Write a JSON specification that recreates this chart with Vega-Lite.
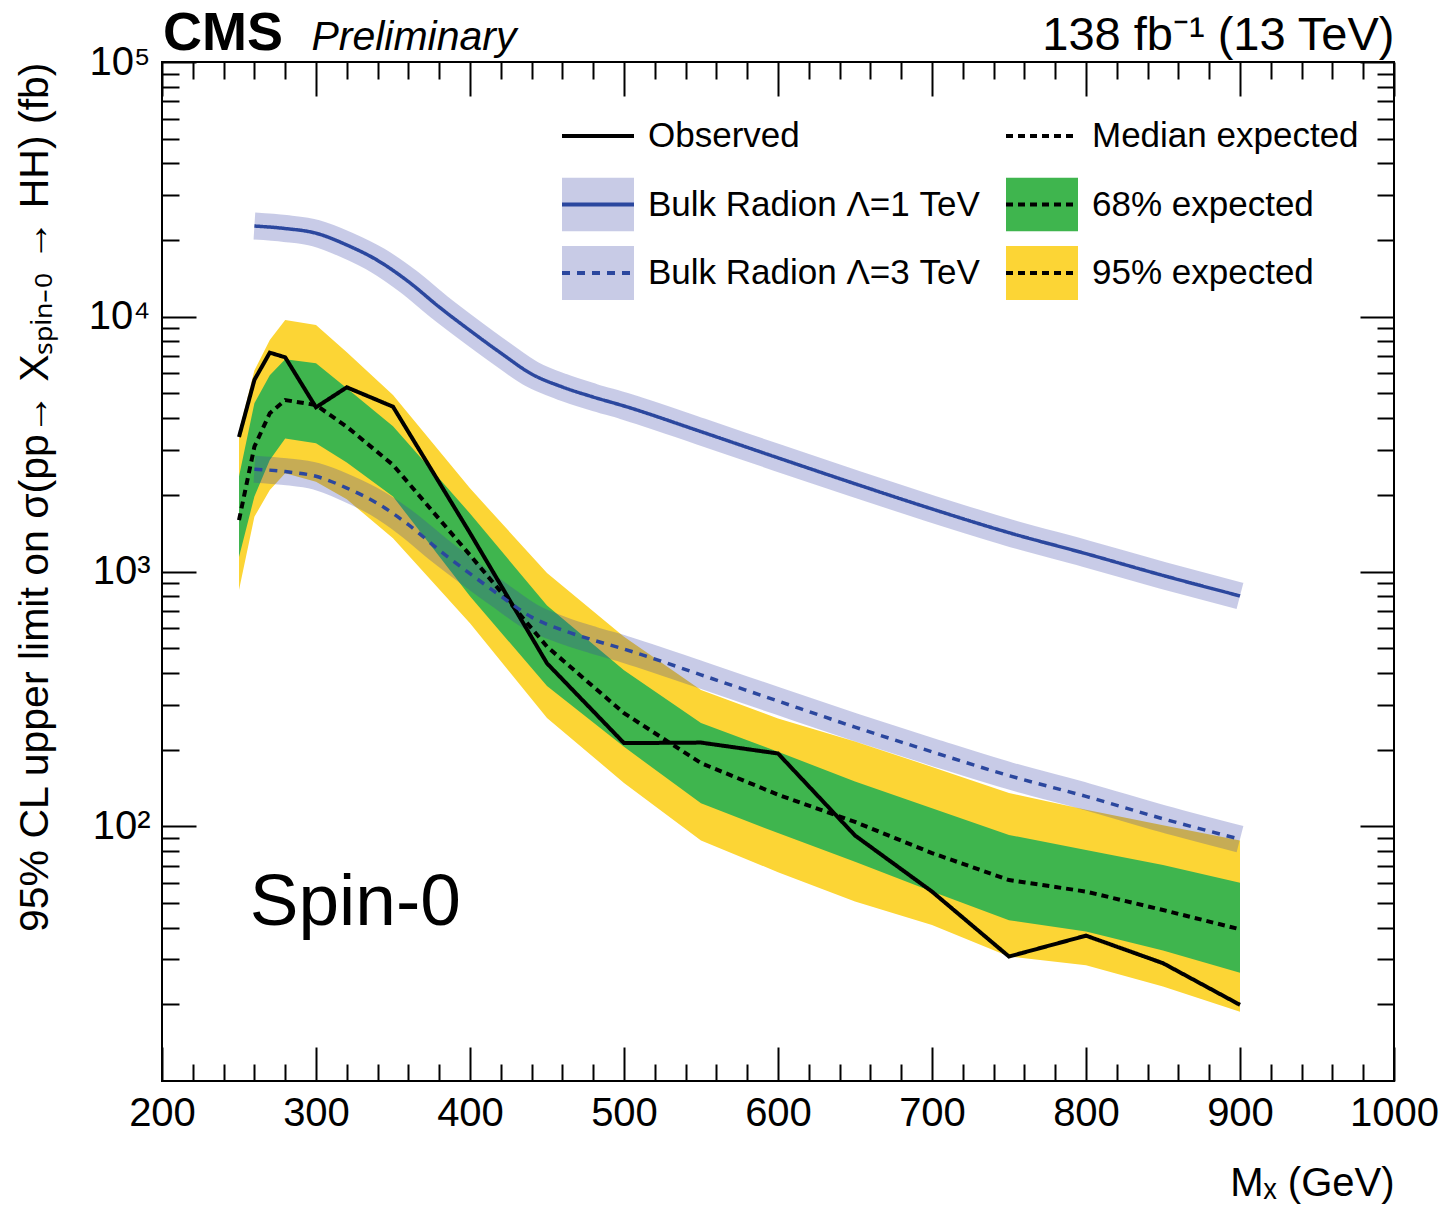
{
  "$schema": "https://vega.github.io/schema/vega-lite/v6.json",
  "width": 1232,
  "height": 1019,
  "autosize": {"type": "none"},
  "padding": {"left": 162, "top": 62, "right": 45, "bottom": 126},
  "background": "white",
  "config": {
    "view": {"stroke": "black", "strokeWidth": 2},
    "font": "Liberation Sans"
  },
  "datasets": {
    "lim": [
      {"m": 250, "obs": 3375, "exp": 1590, "lo68": 1140, "hi68": 2360, "lo95": 846, "hi95": 3550},
      {"m": 260, "obs": 5650, "exp": 3090, "lo68": 1970, "hi68": 4580, "lo95": 1640, "hi95": 6150},
      {"m": 270, "obs": 7230, "exp": 4180, "lo68": 2740, "hi68": 5900, "lo95": 2090, "hi95": 8110},
      {"m": 280, "obs": 6930, "exp": 4710, "lo68": 3330, "hi68": 6810, "lo95": 2430, "hi95": 9710},
      {"m": 300, "obs": 4410, "exp": 4500, "lo68": 3190, "hi68": 6570, "lo95": 2250, "hi95": 9290},
      {"m": 320, "obs": 5285, "exp": 3700, "lo68": 2680, "hi68": 5240, "lo95": 1920, "hi95": 7250},
      {"m": 350, "obs": 4435, "exp": 2620, "lo68": 1970, "hi68": 3720, "lo95": 1350, "hi95": 4930},
      {"m": 400, "obs": 1416, "exp": 1160, "lo68": 800, "hi68": 1690, "lo95": 626, "hi95": 2120},
      {"m": 450, "obs": 436, "exp": 507, "lo68": 355, "hi68": 735, "lo95": 266, "hi95": 986},
      {"m": 500, "obs": 212, "exp": 278, "lo68": 205, "hi68": 410, "lo95": 148, "hi95": 555},
      {"m": 550, "obs": 213, "exp": 177, "lo68": 123, "hi68": 254, "lo95": 88, "hi95": 343},
      {"m": 600, "obs": 193, "exp": 133, "lo68": 94, "hi68": 196, "lo95": 66, "hi95": 265},
      {"m": 650, "obs": 92, "exp": 104, "lo68": 72.6, "hi68": 150, "lo95": 50.6, "hi95": 215},
      {"m": 700, "obs": 55.4, "exp": 78.5, "lo68": 55.4, "hi68": 117.6, "lo95": 41, "hi95": 171},
      {"m": 750, "obs": 30.8, "exp": 61.5, "lo68": 42.8, "hi68": 92.4, "lo95": 30.8, "hi95": 135},
      {"m": 800, "obs": 37.2, "exp": 55.4, "lo68": 38.6, "hi68": 80.7, "lo95": 28.5, "hi95": 116},
      {"m": 850, "obs": 29.0, "exp": 46.9, "lo68": 32.5, "hi68": 70.5, "lo95": 23.5, "hi95": 101},
      {"m": 900, "obs": 19.9, "exp": 39.4, "lo68": 26.6, "hi68": 60, "lo95": 18.7, "hi95": 88}
    ],
    "lam": [
      {"m": 260, "l1": 22700, "l3": 2522},
      {"m": 280, "l1": 22200, "l3": 2467},
      {"m": 300, "l1": 21280, "l3": 2364},
      {"m": 320, "l1": 19130, "l3": 2126},
      {"m": 340, "l1": 16640, "l3": 1849},
      {"m": 360, "l1": 13740, "l3": 1527},
      {"m": 380, "l1": 10920, "l3": 1213},
      {"m": 400, "l1": 8830, "l3": 981},
      {"m": 420, "l1": 7205, "l3": 801},
      {"m": 440, "l1": 5960, "l3": 662},
      {"m": 460, "l1": 5300, "l3": 589},
      {"m": 480, "l1": 4840, "l3": 538},
      {"m": 500, "l1": 4464, "l3": 496},
      {"m": 550, "l1": 3540, "l3": 393},
      {"m": 600, "l1": 2793, "l3": 310},
      {"m": 650, "l1": 2210, "l3": 245},
      {"m": 700, "l1": 1760, "l3": 196},
      {"m": 750, "l1": 1420, "l3": 158},
      {"m": 800, "l1": 1175, "l3": 131},
      {"m": 850, "l1": 965, "l3": 107},
      {"m": 900, "l1": 802, "l3": 89}
    ]
  },
  "layer": [
    {
      "data": {"name": "lim"},
      "mark": {"type": "area", "opacity": 1, "interpolate": "linear"},
      "encoding": {
        "x": {"field": "m", "type": "quantitative", "scale": {"type": "linear", "domain": [200, 1000], "nice": false, "zero": false},
          "axis": {"orient": "bottom", "values": [200, 300, 400, 500, 600, 700, 800, 900, 1000], "tickSize": -34, "tickWidth": 2, "tickColor": "black", "domain": false, "grid": false, "labelFont": "Liberation Sans", "labelFontSize": 40, "labelColor": "black", "labelPadding": 46, "labelFlush": false, "labelOverlap": false, "format": "d", "title": "Mₓ (GeV)", "titleFont": "Liberation Sans", "titleFontSize": 40, "titleFontWeight": "normal", "titleColor": "black", "titleAnchor": "end", "titleAlign": "right", "titlePadding": 30}},
        "y": {"field": "lo95", "type": "quantitative", "scale": {"type": "log", "domain": [10, 100000], "nice": false},
          "axis": {"orient": "left", "values": [100, 1000, 10000, 100000], "tickSize": -34, "tickWidth": 2, "tickColor": "black", "domain": false, "grid": false, "labelFont": "Liberation Sans", "labelFontSize": 40, "labelColor": "black", "labelPadding": 46, "labelFlush": false, "labelOverlap": false, "labelExpr": "datum.value == 100 ? '10²' : datum.value == 1000 ? '10³' : datum.value == 10000 ? '10⁴' : '10⁵'", "title": "95% CL upper limit on σ(pp→ Xₛₚᵢₙ₋₀ → HH) (fb)", "titleFont": "Liberation Sans", "titleFontSize": 41, "titleFontWeight": "normal", "titleColor": "black", "titleAnchor": "end", "titlePadding": 32}},
        "y2": {"field": "hi95"},
        "fill": {"datum": "f:95% expected", "type": "nominal",
          "scale": {"domain": ["f:Observed", "f:Bulk Radion Λ=1 TeV", "f:Bulk Radion Λ=3 TeV", "f:Median expected", "f:68% expected", "f:95% expected"], "range": ["transparent", "#c8cbe6", "#c8cbe6", "transparent", "#3fb54e", "#fcd535"]},
          "legend": {"orient": "none", "legendX": 398, "legendY": 47, "columns": 2, "columnPadding": 24, "rowPadding": 14.5, "clipHeight": 54, "symbolType": "M-1,-0.75H1V0.75H-1Z", "symbolSize": 5184, "symbolStrokeWidth": 4, "symbolStrokeColor": "transparent", "symbolOpacity": 1, "labelExpr": "slice(datum.label, 2)", "labelFont": "Liberation Sans", "labelFontSize": 35, "labelColor": "black", "labelOffset": 12, "labelLimit": 800, "title": null, "padding": 0, "symbolOffset": 0}}
      }
    },
    {
      "data": {"name": "lim"},
      "mark": {"type": "area", "opacity": 1, "interpolate": "linear"},
      "encoding": {
        "x": {"field": "m", "type": "quantitative", "scale": {"type": "linear", "domain": [200, 1000], "nice": false, "zero": false},
          "axis": {"orient": "bottom", "values": [220, 240, 260, 280, 320, 340, 360, 380, 420, 440, 460, 480, 520, 540, 560, 580, 620, 640, 660, 680, 720, 740, 760, 780, 820, 840, 860, 880, 920, 940, 960, 980], "tickSize": -17, "tickWidth": 2, "tickColor": "black", "domain": false, "grid": false, "labels": false, "title": null}},
        "y": {"field": "lo68", "type": "quantitative", "scale": {"type": "log", "domain": [10, 100000], "nice": false},
          "axis": {"orient": "left", "values": [20, 30, 40, 50, 60, 70, 80, 90, 200, 300, 400, 500, 600, 700, 800, 900, 2000, 3000, 4000, 5000, 6000, 7000, 8000, 9000, 20000, 30000, 40000, 50000, 60000, 70000, 80000, 90000], "tickSize": -17, "tickWidth": 2, "tickColor": "black", "domain": false, "grid": false, "labels": false, "title": null}},
        "y2": {"field": "hi68"},
        "fill": {"datum": "f:68% expected", "type": "nominal"}
      }
    },
    {
      "data": {"name": "lam"},
      "mark": {"type": "line", "interpolate": "monotone", "stroke": "#3a46a8", "opacity": 0.28, "strokeWidth": 27, "strokeCap": "butt"},
      "encoding": {
        "x": {"field": "m", "type": "quantitative", "scale": {"type": "linear", "domain": [200, 1000], "nice": false, "zero": false},
          "axis": {"orient": "top", "values": [200, 300, 400, 500, 600, 700, 800, 900, 1000], "tickSize": -34, "tickWidth": 2, "tickColor": "black", "domain": false, "grid": false, "labels": false, "title": "138 fb⁻¹ (13 TeV)", "titleFont": "Liberation Sans", "titleFontSize": 47, "titleFontWeight": "normal", "titleColor": "black", "titleAnchor": "end", "titleAlign": "right", "titlePadding": 2}},
        "y": {"field": "l1", "type": "quantitative", "scale": {"type": "log", "domain": [10, 100000], "nice": false},
          "axis": {"orient": "right", "values": [100, 1000, 10000, 100000], "tickSize": -34, "tickWidth": 2, "tickColor": "black", "domain": false, "grid": false, "labels": false, "title": null}}
      }
    },
    {
      "data": {"name": "lam"},
      "mark": {"type": "line", "interpolate": "monotone", "stroke": "#3a46a8", "opacity": 0.28, "strokeWidth": 27, "strokeCap": "butt"},
      "encoding": {
        "x": {"field": "m", "type": "quantitative", "scale": {"type": "linear", "domain": [200, 1000], "nice": false, "zero": false},
          "axis": {"orient": "top", "values": [220, 240, 260, 280, 320, 340, 360, 380, 420, 440, 460, 480, 520, 540, 560, 580, 620, 640, 660, 680, 720, 740, 760, 780, 820, 840, 860, 880, 920, 940, 960, 980], "tickSize": -17, "tickWidth": 2, "tickColor": "black", "domain": false, "grid": false, "labels": false, "title": null}},
        "y": {"field": "l3", "type": "quantitative", "scale": {"type": "log", "domain": [10, 100000], "nice": false},
          "axis": {"orient": "right", "values": [20, 30, 40, 50, 60, 70, 80, 90, 200, 300, 400, 500, 600, 700, 800, 900, 2000, 3000, 4000, 5000, 6000, 7000, 8000, 9000, 20000, 30000, 40000, 50000, 60000, 70000, 80000, 90000], "tickSize": -17, "tickWidth": 2, "tickColor": "black", "domain": false, "grid": false, "labels": false, "title": null}}
      }
    },
    {
      "data": {"name": "lim"},
      "mark": {"type": "line", "strokeWidth": 4},
      "encoding": {
        "x": {"field": "m", "type": "quantitative", "axis": null},
        "y": {"field": "exp", "type": "quantitative", "axis": null},
        "stroke": {"datum": "Median expected", "type": "nominal",
          "scale": {"domain": ["Observed", "Bulk Radion Λ=1 TeV", "Bulk Radion Λ=3 TeV", "Median expected", "68% expected", "95% expected"], "range": ["black", "#2b479e", "#2b479e", "black", "black", "black"]},
          "legend": {"orient": "none", "legendX": 398, "legendY": 47, "columns": 2, "columnPadding": 24, "rowPadding": 14.5, "clipHeight": 54, "symbolType": "M-1,-0.75L-1,-0.75M-1,0L1,0M1,0.75L1,0.75", "symbolSize": 5184, "symbolStrokeWidth": 4, "labelOpacity": 0, "labelFont": "Liberation Sans", "labelFontSize": 35, "labelColor": "black", "labelOffset": 12, "labelLimit": 800, "title": null, "padding": 0, "symbolOffset": 0, "zindex": 2}},
        "strokeDash": {"datum": "Median expected", "type": "nominal",
          "scale": {"domain": ["Observed", "Bulk Radion Λ=1 TeV", "Bulk Radion Λ=3 TeV", "Median expected", "68% expected", "95% expected"], "range": [[1, 0], [1, 0], [8, 7], [7, 5], [7, 5], [7, 5]]},
          "legend": {"orient": "none", "legendX": 398, "legendY": 47, "columns": 2, "columnPadding": 24, "rowPadding": 14.5, "clipHeight": 54, "symbolType": "M-1,-0.75L-1,-0.75M-1,0L1,0M1,0.75L1,0.75", "symbolSize": 5184, "symbolStrokeWidth": 4, "labelOpacity": 0, "labelFont": "Liberation Sans", "labelFontSize": 35, "labelColor": "black", "labelOffset": 12, "labelLimit": 800, "title": null, "padding": 0, "symbolOffset": 0, "zindex": 2}}
      }
    },
    {
      "data": {"name": "lim"},
      "mark": {"type": "line", "strokeWidth": 4},
      "encoding": {
        "x": {"field": "m", "type": "quantitative", "axis": null},
        "y": {"field": "obs", "type": "quantitative", "axis": null},
        "stroke": {"datum": "Observed", "type": "nominal"},
        "strokeDash": {"datum": "Observed", "type": "nominal"}
      }
    },
    {
      "data": {"name": "lam"},
      "mark": {"type": "line", "strokeWidth": 3.5, "interpolate": "monotone"},
      "encoding": {
        "x": {"field": "m", "type": "quantitative", "axis": null},
        "y": {"field": "l1", "type": "quantitative", "axis": null},
        "stroke": {"datum": "Bulk Radion Λ=1 TeV", "type": "nominal"},
        "strokeDash": {"datum": "Bulk Radion Λ=1 TeV", "type": "nominal"}
      }
    },
    {
      "data": {"name": "lam"},
      "mark": {"type": "line", "strokeWidth": 3.5, "interpolate": "monotone"},
      "encoding": {
        "x": {"field": "m", "type": "quantitative", "axis": null},
        "y": {"field": "l3", "type": "quantitative", "axis": null},
        "stroke": {"datum": "Bulk Radion Λ=3 TeV", "type": "nominal"},
        "strokeDash": {"datum": "Bulk Radion Λ=3 TeV", "type": "nominal"}
      }
    },
    {
      "data": {"values": [{}]},
      "mark": {"type": "text", "text": "Spin-0", "font": "Liberation Sans", "fontSize": 73, "align": "left", "baseline": "alphabetic", "color": "black"},
      "encoding": {
        "x": {"datum": 257, "type": "quantitative", "axis": null},
        "y": {"datum": 41, "type": "quantitative", "axis": null}
      }
    },
    {
      "data": {"values": [{}]},
      "mark": {"type": "text", "text": "CMS", "font": "Liberation Sans", "fontSize": 54, "fontWeight": "bold", "align": "left", "baseline": "alphabetic", "dy": -12, "dx": 1, "color": "black"},
      "encoding": {
        "x": {"datum": 200, "type": "quantitative", "axis": null},
        "y": {"datum": 100000, "type": "quantitative", "axis": null}
      }
    },
    {
      "data": {"values": [{}]},
      "mark": {"type": "text", "text": "Preliminary", "font": "Liberation Sans", "fontSize": 41, "fontStyle": "italic", "align": "left", "baseline": "alphabetic", "dy": -12, "color": "black"},
      "encoding": {
        "x": {"datum": 297, "type": "quantitative", "axis": null},
        "y": {"datum": 100000, "type": "quantitative", "axis": null}
      }
    }
  ],
  "resolve": {"axis": {"x": "independent", "y": "independent"}}
}
